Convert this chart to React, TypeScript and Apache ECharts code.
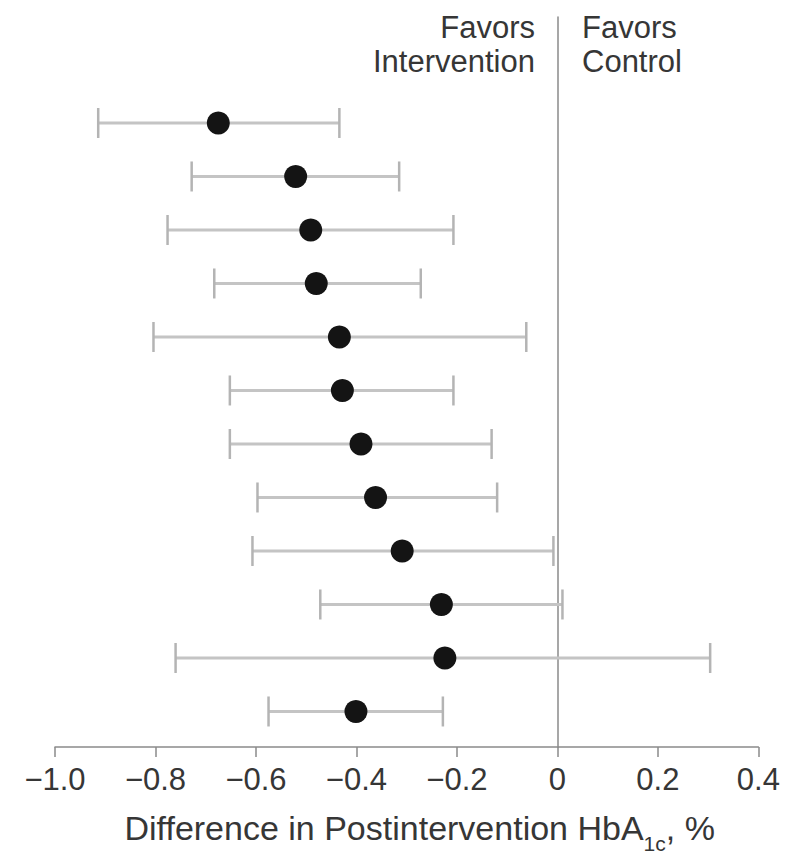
import React, { useEffect, useRef } from "react";
import * as echarts from "echarts";

// Rows from top to bottom (index 0 = top)
const rows = [0, 1, 2, 3, 4, 5, 6, 7, 8, 9, 10, 11];
const means = [-0.675, -0.521, -0.491, -0.48, -0.434, -0.428, -0.391, -0.362, -0.309, -0.231, -0.224, -0.401];
const lowers = [-0.914, -0.728, -0.776, -0.683, -0.804, -0.652, -0.652, -0.597, -0.607, -0.472, -0.76, -0.575];
const uppers = [-0.434, -0.315, -0.207, -0.272, -0.062, -0.207, -0.131, -0.12, -0.008, 0.01, 0.304, -0.228];

const xMin = -1.0;
const xMax = 0.4;
const xStep = 0.2;

const labelLeft = ["Favors", "Intervention"];
const labelRight = ["Favors", "Control"];

const FONT = "'Liberation Sans', Arial, Helvetica, sans-serif";
const TXT = "#363636";

export default function App() {
  const ref = useRef<HTMLDivElement>(null);

  useEffect(() => {
    if (!ref.current) return;
    const chart = echarts.init(ref.current, undefined, { renderer: "svg" });

    const barData = rows.map((r, i) => [lowers[i], uppers[i], r]);
    const dotData = rows.map((r, i) => [means[i], r]);

    const lineY = [27.5, 61.5];
    const sideText = (lines: string[], x: number, align: string) =>
      lines.map((t, i) => ({
        type: "text",
        x,
        y: lineY[i],
        style: {
          text: t,
          fontSize: 31,
          fill: TXT,
          fontFamily: FONT,
          align,
          verticalAlign: "middle",
        },
      }));

    const option: any = {
      animation: false,
      backgroundColor: "#ffffff",
      textStyle: { fontFamily: FONT },
      grid: {
        left: 55,
        right: 35.6,
        top: 17,
        bottom: 108,
        containLabel: false,
        outerBoundsMode: "none",
      },
      xAxis: {
        type: "value",
        min: xMin,
        max: xMax,
        interval: xStep,
        axisLine: { show: true, onZero: false, lineStyle: { color: "#8a8a8a", width: 1.5 } },
        axisTick: { show: true, length: 10, lineStyle: { color: "#8a8a8a", width: 1.5 } },
        splitLine: { show: false },
        axisLabel: {
          fontSize: 31,
          color: TXT,
          fontFamily: FONT,
          margin: 17,
          formatter: (v: number) => {
            if (Math.abs(v) < 1e-9) return "0";
            const s = v.toFixed(1);
            return s.replace("-", "\u2212");
          },
        },
        name: "{m|Difference in Postintervention HbA}{s|1c}{m|, %}",
        nameLocation: "middle",
        nameGap: 64,
        nameTextStyle: {
          padding: [0, 0, 0, 26],
          rich: {
            m: { fontSize: 34, color: TXT, lineHeight: 34, fontFamily: FONT },
            s: {
              fontSize: 21,
              color: TXT,
              lineHeight: 6,
              verticalAlign: "top",
              padding: [22, 0, 0, 0],
              fontFamily: FONT,
            },
          },
        },
      },
      yAxis: {
        type: "value",
        inverse: true,
        min: -1.981,
        max: 11.664,
        axisLine: { show: true, onZero: true, lineStyle: { color: "#8a8a8a", width: 1.5 } },
        axisTick: { show: false },
        axisLabel: { show: false },
        splitLine: { show: false },
      },
      graphic: [...sideText(labelLeft, 535, "right"), ...sideText(labelRight, 582, "left")],
      series: [
        {
          type: "custom",
          data: barData,
          encode: { x: [0, 1], y: 2 },
          renderItem: (params: any, api: any) => {
            const lo = api.coord([api.value(0), api.value(2)]);
            const hi = api.coord([api.value(1), api.value(2)]);
            const h = 15;
            const stroke = "#b4b4b4";
            return {
              type: "group",
              children: [
                {
                  type: "line",
                  shape: { x1: lo[0], y1: lo[1], x2: hi[0], y2: hi[1] },
                  style: { stroke: "#c4c4c4", lineWidth: 3 },
                },
                {
                  type: "line",
                  shape: { x1: lo[0], y1: lo[1] - h, x2: lo[0], y2: lo[1] + h },
                  style: { stroke, lineWidth: 2.5 },
                },
                {
                  type: "line",
                  shape: { x1: hi[0], y1: hi[1] - h, x2: hi[0], y2: hi[1] + h },
                  style: { stroke, lineWidth: 2.5 },
                },
              ],
            };
          },
          z: 2,
        },
        {
          type: "scatter",
          data: dotData,
          symbol: "circle",
          symbolSize: 23,
          itemStyle: { color: "#141414", opacity: 1 },
          z: 3,
        },
      ],
    };

    chart.setOption(option);
    return () => chart.dispose();
  }, []);

  return (
    <div
      ref={ref}
      style={{ position: "fixed", left: 0, top: 0, width: 794, height: 855, background: "#fff" }}
    />
  );
}
